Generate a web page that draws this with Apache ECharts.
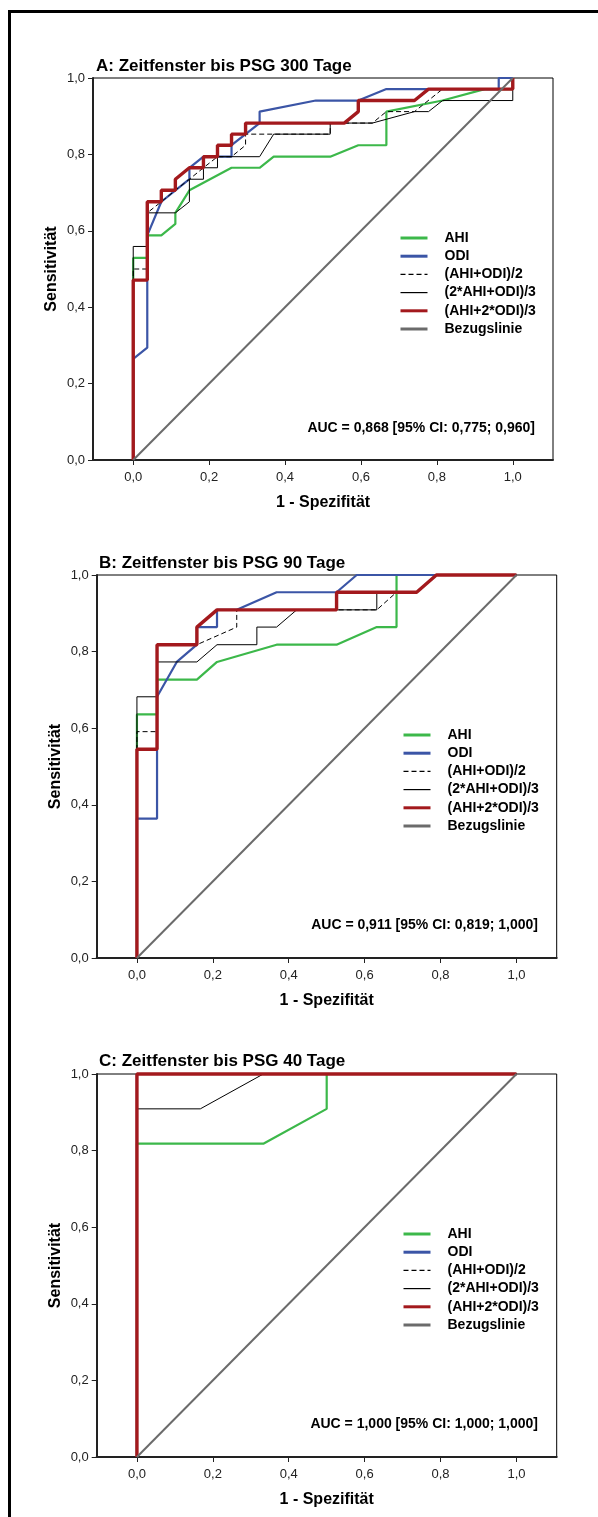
<!DOCTYPE html>
<html>
<head>
<meta charset="utf-8">
<script src="https://cdn.jsdelivr.net/npm/echarts@6/dist/echarts.min.js"></script>
<style>
html,body{margin:0;padding:0;background:#fff;}
#c{width:598px;height:1517px;}
</style>
</head>
<body>
<div id="c"></div>
<script>
// ---- Data (1 - Spezifität, Sensitivität) ----
const seriesNames = ['AHI', 'ODI', '(AHI+ODI)/2', '(2*AHI+ODI)/3', '(AHI+2*ODI)/3', 'Bezugslinie'];
const panelTitles = ['A: Zeitfenster bis PSG 300 Tage', 'B: Zeitfenster bis PSG 90 Tage', 'C: Zeitfenster bis PSG 40 Tage'];
const aucTexts = ['AUC = 0,868 [95% CI: 0,775; 0,960]', 'AUC = 0,911 [95% CI: 0,819; 1,000]', 'AUC = 1,000 [95% CI: 1,000; 1,000]'];
const xTicks = [0, 0.2, 0.4, 0.6, 0.8, 1.0];
const yTicks = [0, 0.2, 0.4, 0.6, 0.8, 1.0];

// Panel A
const A_AHI = [[0,0],[0,0.529],[0.037,0.529],[0.037,0.588],[0.074,0.588],[0.111,0.618],[0.111,0.647],[0.148,0.706],[0.259,0.765],[0.333,0.765],[0.370,0.794],[0.519,0.794],[0.593,0.824],[0.667,0.824],[0.667,0.912],[0.815,0.941],[0.926,0.971],[1,0.971],[1,1]];
const A_ODI = [[0,0],[0,0.265],[0.037,0.294],[0.037,0.588],[0.074,0.676],[0.111,0.706],[0.148,0.735],[0.148,0.765],[0.185,0.794],[0.259,0.794],[0.259,0.824],[0.333,0.882],[0.333,0.912],[0.481,0.941],[0.593,0.941],[0.667,0.971],[0.963,0.971],[0.963,1],[1,1]];
const A_MEAN = [[0,0],[0,0.5],[0.037,0.5],[0.037,0.647],[0.074,0.676],[0.111,0.706],[0.148,0.735],[0.185,0.765],[0.222,0.794],[0.259,0.794],[0.296,0.824],[0.296,0.853],[0.519,0.853],[0.519,0.882],[0.630,0.882],[0.667,0.912],[0.741,0.912],[0.815,0.971],[1,0.971],[1,1]];
const A_2AHI = [[0,0],[0,0.559],[0.037,0.559],[0.037,0.647],[0.111,0.647],[0.148,0.676],[0.148,0.735],[0.185,0.735],[0.185,0.765],[0.222,0.765],[0.222,0.794],[0.333,0.794],[0.370,0.853],[0.519,0.853],[0.519,0.882],[0.630,0.882],[0.741,0.912],[0.778,0.912],[0.815,0.941],[1,0.941],[1,1]];
const A_2ODI = [[0,0],[0,0.471],[0.037,0.471],[0.037,0.676],[0.074,0.676],[0.074,0.706],[0.111,0.706],[0.111,0.735],[0.148,0.765],[0.185,0.765],[0.185,0.794],[0.222,0.794],[0.222,0.824],[0.259,0.824],[0.259,0.853],[0.296,0.853],[0.296,0.882],[0.556,0.882],[0.593,0.912],[0.593,0.941],[0.741,0.941],[0.778,0.971],[1,0.971],[1,1]];
const A_REF = [[0,0],[1,1]];

// Panel B
const B_AHI = [[0,0],[0,0.636],[0.053,0.636],[0.053,0.727],[0.158,0.727],[0.211,0.773],[0.368,0.818],[0.526,0.818],[0.632,0.864],[0.684,0.864],[0.684,1],[1,1]];
const B_ODI = [[0,0],[0,0.364],[0.053,0.364],[0.053,0.682],[0.105,0.773],[0.158,0.818],[0.158,0.864],[0.211,0.864],[0.211,0.909],[0.263,0.909],[0.368,0.955],[0.526,0.955],[0.579,1],[1,1]];
const B_MEAN = [[0,0],[0,0.591],[0.053,0.591],[0.053,0.818],[0.158,0.818],[0.263,0.864],[0.263,0.909],[0.632,0.909],[0.684,0.955],[0.737,0.955],[0.789,1],[1,1]];
const B_2AHI = [[0,0],[0,0.682],[0.053,0.682],[0.053,0.773],[0.158,0.773],[0.211,0.818],[0.316,0.818],[0.316,0.864],[0.368,0.864],[0.421,0.909],[0.632,0.909],[0.632,0.955],[0.737,0.955],[0.789,1],[1,1]];
const B_2ODI = [[0,0],[0,0.545],[0.053,0.545],[0.053,0.818],[0.158,0.818],[0.158,0.864],[0.211,0.909],[0.526,0.909],[0.526,0.955],[0.737,0.955],[0.789,1],[1,1]];
const B_REF = [[0,0],[1,1]];

// Panel C
const C_AHI = [[0,0],[0,0.818],[0.333,0.818],[0.5,0.909],[0.5,1],[1,1]];
const C_ODI = [[0,0],[0,1],[1,1]];
const C_MEAN = [[0,0],[0,1],[1,1]];
const C_2AHI = [[0,0],[0,0.909],[0.167,0.909],[0.333,1],[1,1]];
const C_2ODI = [[0,0],[0,1],[1,1]];
const C_REF = [[0,0],[1,1]];

const panelData = [
  [A_AHI, A_ODI, A_MEAN, A_2AHI, A_2ODI, A_REF],
  [B_AHI, B_ODI, B_MEAN, B_2AHI, B_2ODI, B_REF],
  [C_AHI, C_ODI, C_MEAN, C_2AHI, C_2ODI, C_REF]
];

// ---- Styles ----
const FONT = '"Liberation Sans", Arial, sans-serif';
const lineStyles = [
  {color: '#3cb84a', width: 2.2, type: 'solid'},
  {color: '#3b55a6', width: 2.2, type: 'solid'},
  {color: '#000000', width: 1, type: [5, 3]},
  {color: '#000000', width: 1, type: 'solid'},
  {color: '#a3191d', width: 3.4, type: 'solid'},
  {color: '#6b6b6b', width: 2, type: 'solid'}
];
const legendWidths = [3, 3, 1.2, 1.2, 3, 3];
const layouts = [
  {left: 93, top: 78, height: 382, title: [96, 57.5], legend: [399, 231], auc: [535, 428]},
  {left: 96.7, top: 575, height: 383, title: [99, 555], legend: [402, 728], auc: [538, 925]},
  {left: 96.7, top: 1074, height: 383, title: [99, 1053], legend: [402, 1227], auc: [538, 1424]}
];
const PLOT_W = 460;
const fmt = v => Number(v).toFixed(1).replace('.', ',');

const grids = [], xAxes = [], yAxes = [], series = [], titles = [], legends = [], graphics = [];

layouts.forEach((L, p) => {
  grids.push({left: L.left, top: L.top, width: PLOT_W, height: L.height, show: true,
    borderColor: '#000', borderWidth: 1, backgroundColor: '#fff'});
  xAxes.push({
    type: 'value', gridIndex: p, min: -0.106, max: 1.106,
    name: '1 - Spezifität', nameLocation: 'middle', nameGap: 35, nameMoveOverlap: false,
    nameTextStyle: {fontFamily: FONT, fontSize: 16, fontWeight: 'bold', color: '#000'},
    axisLine: {show: true, onZero: false, lineStyle: {color: '#222', width: 2}},
    axisTick: {show: true, inside: false, length: 5, lineStyle: {color: '#222', width: 1}, customValues: xTicks},
    axisLabel: {show: true, margin: 11, fontFamily: FONT, fontSize: 13, color: '#222', formatter: fmt, customValues: xTicks},
    splitLine: {show: false}
  });
  yAxes.push({
    type: 'value', gridIndex: p, min: 0, max: 1, interval: 0.2,
    name: 'Sensitivität', nameLocation: 'middle', nameGap: 33, nameRotate: 90, nameMoveOverlap: false,
    nameTextStyle: {fontFamily: FONT, fontSize: 16, fontWeight: 'bold', color: '#000'},
    axisLine: {show: true, onZero: false, lineStyle: {color: '#222', width: 2}},
    axisTick: {show: true, inside: false, length: 5, lineStyle: {color: '#222', width: 1}},
    axisLabel: {show: true, margin: 8, fontFamily: FONT, fontSize: 13, color: '#222', formatter: fmt},
    splitLine: {show: false}
  });
  panelData[p].forEach((d, s) => {
    series.push({
      type: 'line', name: seriesNames[s], xAxisIndex: p, yAxisIndex: p,
      data: d, symbol: 'none', showSymbol: false, clip: false, smooth: false,
      lineStyle: Object.assign({}, lineStyles[s]), itemStyle: {color: lineStyles[s].color},
      emphasis: {disabled: true}, z: 2 + s, animation: false
    });
  });
  titles.push({text: panelTitles[p], left: L.title[0], top: L.title[1], padding: 0,
    textStyle: {fontFamily: FONT, fontSize: 17, fontWeight: 'bold', color: '#000'}});
  legends.push({
    data: seriesNames.map((n, i) => ({name: n, lineStyle: {width: legendWidths[i]}})),
    orient: 'vertical', left: L.legend[0], top: L.legend[1], padding: 0,
    itemWidth: 27, itemHeight: 14, itemGap: 4.2, selectedMode: false,
    itemStyle: {opacity: 0, borderWidth: 0},
    textStyle: {fontFamily: FONT, fontSize: 14, fontWeight: 'bold', color: '#000', padding: [0, 0, 0, 12]}
  });
  graphics.push({type: 'text', z: 100, style: {text: aucTexts[p], x: L.auc[0], y: L.auc[1],
    align: 'right', verticalAlign: 'middle', font: 'bold 14px ' + FONT, fill: '#000'}});
});

graphics.push({type: 'rect', z: 100, shape: {x: 9.5, y: 11.5, width: 1000, height: 2000},
  style: {fill: 'none', stroke: '#000', lineWidth: 3}});

const chart = echarts.init(document.getElementById('c'), null, {renderer: 'canvas'});
chart.setOption({
  animation: false,
  backgroundColor: '#fff',
  title: titles,
  legend: legends,
  grid: grids,
  xAxis: xAxes,
  yAxis: yAxes,
  series: series,
  graphic: graphics
});
</script>
</body>
</html>
